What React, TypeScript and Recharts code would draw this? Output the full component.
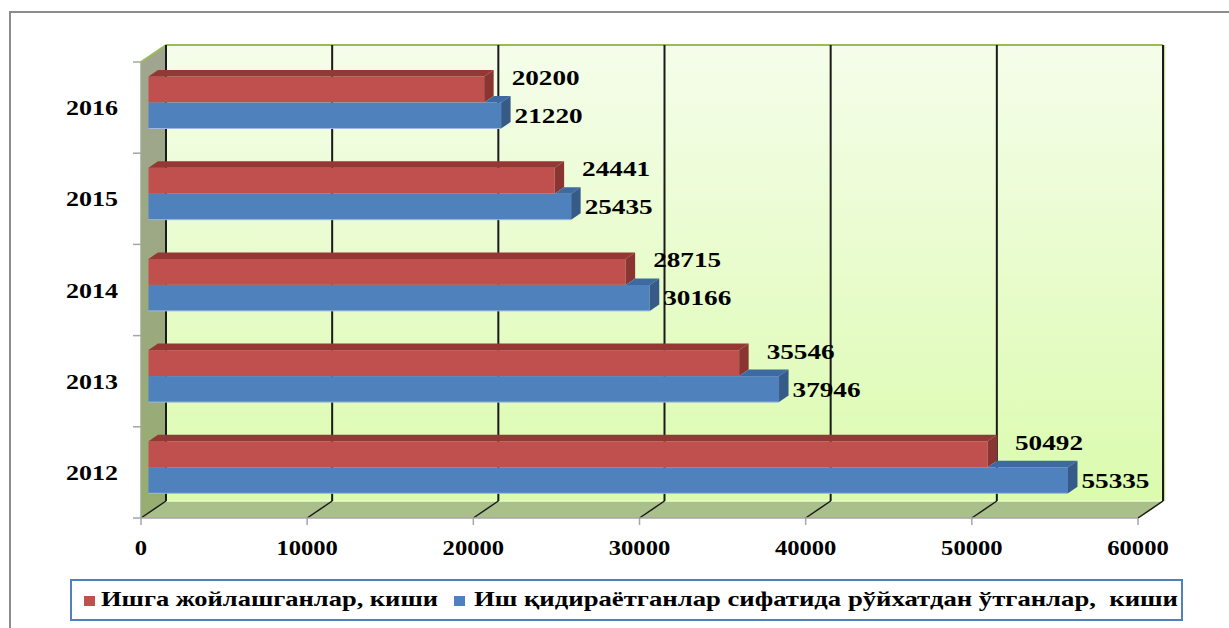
import React from 'react';
import {
  BarChart,
  Bar,
  XAxis,
  YAxis,
  CartesianGrid,
  ReferenceArea,
  ReferenceLine,
  LabelList,
  Legend,
} from 'recharts';

// ---------- data ----------
const years = ['2012', '2013', '2014', '2015', '2016'];
const employed = [50492, 35546, 28715, 24441, 20200];
const registered = [55335, 37946, 30166, 25435, 21220];
const valueTicks = [0, 10000, 20000, 30000, 40000, 50000, 60000];
const seriesNames = [
  'Ишга жойлашганлар, киши',
  'Иш қидираётганлар сифатида рўйхатдан ўтганлар,  киши',
];

const rows = years.map((year, i) => ({
  year,
  employed: employed[i],
  registered: registered[i],
}));

// ---------- pseudo-3D geometry & style ----------
const WALL_DX = 25;
const WALL_DY = -17;
const BAR_DX = 7.5;
const BAR_DY = -5.5;
const FACE_DX = 9.5;
const FACE_DY = -6.5;
const FONT = "'Liberation Serif', 'Times New Roman', serif";

const RED = { front: '#c0504d', top: '#953735', side: '#8b3532' };
const BLUE = { front: '#4f81bd', top: '#3d6aa1', side: '#365b89' };

const STText = ({ x, y, anchor = 'start', len, size = 22, children }: any) => (
  <text
    x={x}
    y={y}
    textAnchor={anchor}
    fontFamily={FONT}
    fontWeight="bold"
    fontSize={size}
    textLength={len}
    lengthAdjust="spacingAndGlyphs"
    fill="#000"
    style={{ whiteSpace: 'pre' }}
  >
    {children}
  </text>
);

const RedBar = (p: any) => {
  const x0 = p.x + BAR_DX;
  const y0 = p.y + BAR_DY;
  const w = p.width;
  const h = p.height;
  return (
    <g>
      <rect x={x0} y={y0} width={w} height={h} fill={RED.front} />
      <polygon
        points={`${x0},${y0} ${x0 + w},${y0} ${x0 + w + FACE_DX},${y0 + FACE_DY} ${x0 + FACE_DX},${y0 + FACE_DY}`}
        fill={RED.top}
      />
      <polygon
        points={`${x0 + w},${y0} ${x0 + w + FACE_DX},${y0 + FACE_DY} ${x0 + w + FACE_DX},${y0 + h + FACE_DY} ${x0 + w},${y0 + h}`}
        fill={RED.side}
      />
    </g>
  );
};

const BlueBar = (p: any) => {
  const x0 = p.x + BAR_DX;
  const y0 = p.y + BAR_DY;
  const w = p.width;
  const h = p.height;
  const ratio = p.payload && p.payload.registered ? p.payload.employed / p.payload.registered : 0;
  const xr = x0 + w * Math.min(1, ratio);
  return (
    <g>
      <rect x={x0} y={y0} width={w} height={h} fill={BLUE.front} />
      <polygon
        points={`${xr},${y0} ${x0 + w},${y0} ${x0 + w + FACE_DX},${y0 + FACE_DY} ${xr + FACE_DX},${y0 + FACE_DY}`}
        fill={BLUE.top}
      />
      <polygon
        points={`${x0 + w},${y0} ${x0 + w + FACE_DX},${y0 + FACE_DY} ${x0 + w + FACE_DX},${y0 + h + FACE_DY} ${x0 + w},${y0 + h}`}
        fill={BLUE.side}
      />
      <line x1={x0} y1={y0 + h} x2={x0 + w} y2={y0 + h} stroke="#9dbbe0" strokeWidth={1} />
    </g>
  );
};

const RedLabel = (p: any) => {
  const xe = p.x + p.width + BAR_DX + FACE_DX;
  const cy = p.y + BAR_DY + p.height / 2;
  const s = String(p.value);
  return (
    <STText x={xe + 18} y={cy - 12 + 7.5} len={s.length * 13.6}>
      {s}
    </STText>
  );
};

const BlueLabel = (p: any) => {
  const xe = p.x + p.width + BAR_DX + FACE_DX;
  const cy = p.y + BAR_DY + p.height / 2;
  const s = String(p.value);
  return (
    <STText x={xe + 4} y={cy + 7.5} len={s.length * 13.6}>
      {s}
    </STText>
  );
};

const Walls = (p: any) => {
  const { x, y, width: w, height: h } = p;
  const bx = x + WALL_DX;
  const by = y + WALL_DY;
  return (
    <g>
      <defs>
        <linearGradient id="backWall" x1="0" y1="0" x2="0" y2="1">
          <stop offset="0%" stopColor="#f5fdea" />
          <stop offset="100%" stopColor="#dbfbae" />
        </linearGradient>
        <linearGradient id="sideWall" x1="0" y1="0" x2="0" y2="1">
          <stop offset="0%" stopColor="#a0a591" />
          <stop offset="100%" stopColor="#97ad70" />
        </linearGradient>
      </defs>
      <rect x={bx} y={by} width={w} height={h} fill="url(#backWall)" />
      <polygon points={`${x},${y} ${bx},${by} ${bx},${by + h} ${x},${y + h}`} fill="url(#sideWall)" />
      <polygon points={`${x},${y + h} ${bx},${by + h} ${bx + w},${by + h} ${x + w},${y + h}`} fill="#a9c08b" />
      <line x1={bx} y1={by + h} x2={bx + w} y2={by + h} stroke="#eaffc8" strokeWidth={1.5} />
      <line x1={bx} y1={by} x2={bx + w} y2={by} stroke="#9bbb59" strokeWidth={2} />
      <line x1={x} y1={y} x2={bx} y2={by} stroke="#9bbb59" strokeWidth={2} />
      <line x1={bx + w} y1={by + h} x2={x + w} y2={y + h} stroke="#9bbb59" strokeWidth={1.5} />
      <line x1={bx + w + 1.5} y1={by} x2={bx + w + 1.5} y2={by + h} stroke="#c5dc98" strokeWidth={1.5} />
    </g>
  );
};

const GridLine3D = (p: any) => {
  const x = p.x1;
  const top = Math.min(p.y1, p.y2);
  const bottom = Math.max(p.y1, p.y2);
  return (
    <g>
      <line x1={x + WALL_DX} y1={top + WALL_DY} x2={x + WALL_DX} y2={bottom + WALL_DY} stroke="#1a1a1a" strokeWidth={2} />
      <line x1={x + WALL_DX} y1={bottom + WALL_DY} x2={x} y2={bottom} stroke="#1a1a1a" strokeWidth={1.5} />
    </g>
  );
};

const XTick = (p: any) => {
  const s = String(p.payload.value);
  return (
    <STText x={p.x} y={p.y + 28} anchor="middle" size={21} len={s.length * 12.3}>
      {s}
    </STText>
  );
};

const YTick = (p: any) => {
  const s = String(p.payload.value);
  return (
    <STText x={p.x - 23} y={p.y + 7.5} anchor="end" len={s.length * 13}>
      {s}
    </STText>
  );
};

const legendLayout = [
  { sq: 14, tx: 31, len: 337 },
  { sq: 384, tx: 404, len: 704 },
];

const LegendBox = (props: any) => {
  const payload = props.payload || [];
  return (
    <svg width={1113} height={42} style={{ display: 'block' }}>
      <rect x={1} y={1} width={1111} height={40} fill="#fff" stroke="#4f81bd" strokeWidth={2} />
      {payload.map((entry: any, i: number) => {
        const idx = seriesNames.indexOf(entry.value);
        const l = legendLayout[idx >= 0 ? idx : i] || legendLayout[0];
        return (
          <g key={i}>
            <rect x={l.sq} y={17} width={11} height={10} fill={entry.color} />
            <STText x={l.tx} y={27} len={l.len}>
              {entry.value}
            </STText>
          </g>
        );
      })}
    </svg>
  );
};

export default function App() {
  return (
    <div style={{ position: 'absolute', left: 0, top: 0, width: 1229, height: 628, overflow: 'hidden', background: '#fff' }}>
      <div
        style={{
          position: 'absolute',
          left: 9,
          top: 11,
          width: 1220,
          height: 617,
          borderTop: '2px solid #8c8c8c',
          borderLeft: '2px solid #8c8c8c',
          boxSizing: 'border-box',
        }}
      />
      <div style={{ position: 'absolute', left: 0, top: 0 }}>
        <BarChart
          width={1229}
          height={628}
          data={rows}
          layout="vertical"
          margin={{ top: 62, right: 91, bottom: 70, left: 0 }}
          barSize={26}
          barGap={0}
        >
          <ReferenceArea x1={0} x2={60000} shape={Walls} zIndex={-300} ifOverflow="visible" />
          {valueTicks.map((t) => (
            <ReferenceLine key={t} x={t} shape={GridLine3D} zIndex={-250} ifOverflow="visible" />
          ))}
          <CartesianGrid
            vertical={false}
            x={133}
            width={8}
            stroke="#a6a6a6"
            strokeWidth={1.5}
            horizontalCoordinatesGenerator={(arg: any) => {
              const o = arg.offset;
              return [0, 1, 2, 3, 4, 5].map((i) => o.top + (i * o.height) / 5);
            }}
          />
          <XAxis
            type="number"
            domain={[0, 60000]}
            ticks={valueTicks}
            interval={0}
            tick={<XTick />}
            tickSize={7}
            tickLine={{ stroke: '#a6a6a6', strokeWidth: 1.5 }}
            axisLine={{ stroke: '#a6a6a6', strokeWidth: 1.5 }}
            height={40}
          />
          <YAxis
            type="category"
            dataKey="year"
            reversed
            width={141}
            tick={<YTick />}
            tickLine={false}
            tickSize={0}
            tickMargin={0}
            axisLine={{ stroke: '#a0ab8c', strokeWidth: 1.5 }}
          />
          <Bar dataKey="employed" name={seriesNames[0]} fill={RED.front} shape={RedBar} isAnimationActive={false}>
            <LabelList dataKey="employed" content={RedLabel} />
          </Bar>
          <Bar dataKey="registered" name={seriesNames[1]} fill={BLUE.front} shape={BlueBar} isAnimationActive={false}>
            <LabelList dataKey="registered" content={BlueLabel} />
          </Bar>
          <Legend
            verticalAlign="middle"
            align="center"
            layout="horizontal"
            content={LegendBox}
            wrapperStyle={{ position: 'absolute', left: 70, top: 579, width: 1113, height: 42, margin: 0, padding: 0 }}
          />
        </BarChart>
      </div>
    </div>
  );
}
